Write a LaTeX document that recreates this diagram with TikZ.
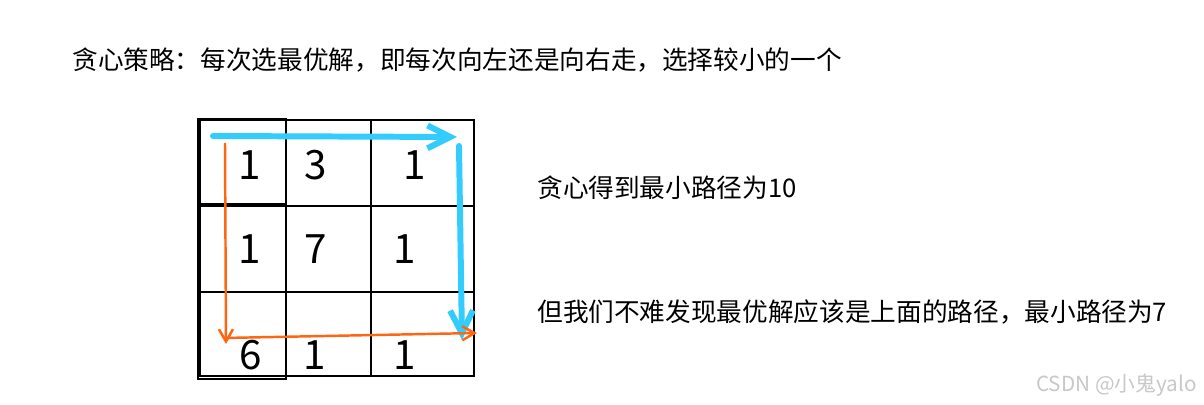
\documentclass[tikz,border=0pt]{standalone}
\usepackage{fontspec}
\setmainfont{Noto Sans CJK SC}
\usepackage{tikz}
\usetikzlibrary{arrows.meta,positioning}
\definecolor{pathblue}{RGB}{51,204,255}
\definecolor{pathorange}{RGB}{255,102,17}
\definecolor{markgray}{RGB}{200,200,200}
\begin{document}
\begin{tikzpicture}[x=0.02cm, y=-0.02cm,
    every node/.style={inner sep=0pt},
    txt/.style={anchor=west, font=\fontsize{14.6}{16}\selectfont},
    num/.style={font=\fontsize{23}{25}\selectfont},
    gridline/.style={line width=1.6pt, black},
    bluepath/.style={pathblue, line width=3.4pt, line cap=round,
      -{Straight Barb[length=13pt, width=13pt, line width=3.4pt]}},
    orangepath/.style={pathorange, line width=1.4pt,
      -{Straight Barb[length=7pt, width=8pt, line width=1.4pt]}}]
  \fill[white] (0,0) rectangle (1204,405);
  \useasboundingbox (0,0) rectangle (1204,405);
  % Texts
  \node[txt] (title) at (72,60) {贪心策略：每次选最优解，即每次向左还是向右走，选择较小的一个};
  \node[txt] (greedy) at (537,188) {贪心得到最小路径为10};
  \node[txt] (best) at (537,312) {但我们不难发现最优解应该是上面的路径，最小路径为7};
  \node[anchor=east, markgray, font=\fontsize{11.8}{13}\selectfont] (mark) at (1197,385) {CSDN @小鬼yalo};
  % Grid
  \draw[gridline] (200,120) rectangle (474,376);
  \draw[gridline] (198,119) rectangle (286,379);
  \draw[gridline] (198,119) rectangle (286,204);
  \draw[gridline] (286,120) -- (286,376);
  \draw[gridline] (371,120) -- (371,376);
  \draw[gridline] (200,206) -- (474,206);
  \draw[gridline] (200,292) -- (474,292);
  % Cell values
  \node[num] (c11) at (250,165) {1};
  \node[num] (c12) at (316,165) {3};
  \node[num] (c13) at (415,165) {1};
  \node[num] (c21) at (250,249) {1};
  \node[num] (c22) at (316,249) {7};
  \node[num] (c23) at (405,249) {1};
  \node[num] (c31) at (251,355) {6};
  \node[num] (c32) at (315,355) {1};
  \node[num] (c33) at (405,355) {1};
  % Path corners
  \coordinate (bstart) at (213,136);
  \coordinate (bturn) at (457,137);
  \coordinate (btop) at (459,146);
  \coordinate (bend) at (462,340);
  \coordinate (ostart) at (225,143);
  \coordinate (oturn) at (226,344);
  \coordinate (oleft) at (223,338);
  \coordinate (oend) at (477,333);
  % Optimal path (blue)
  \draw[bluepath] (bstart) -- (bturn);
  \draw[bluepath] (btop) -- (bend);
  % Greedy path (orange)
  \draw[orangepath] (ostart) -- (oturn);
  \draw[orangepath] (oleft) -- (oend);
\end{tikzpicture}
\end{document}
